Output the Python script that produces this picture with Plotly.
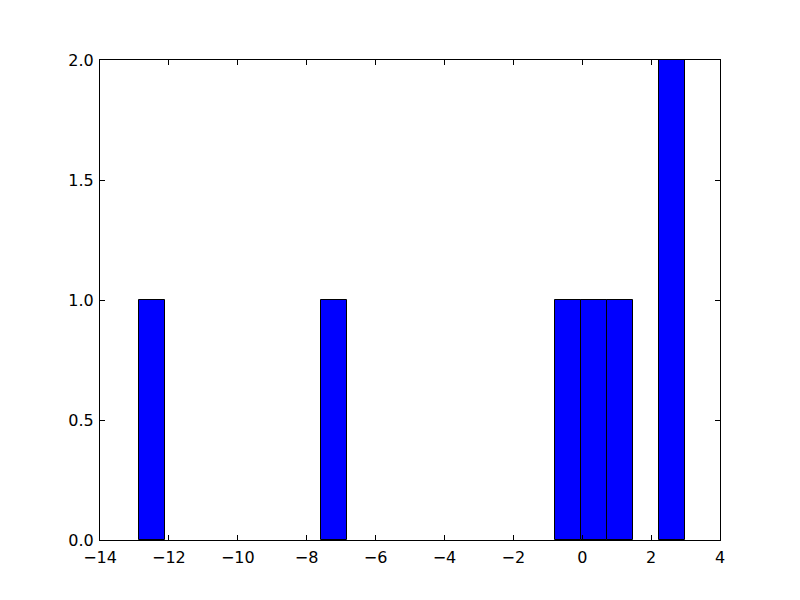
import plotly.graph_objects as go

bin_start = -12.87
bin_width = 0.7548
counts = [1, 0, 0, 0, 0, 0, 0, 1, 0, 0, 0, 0, 0, 0, 0, 0, 1, 1, 1, 0, 2]
x_ticks = [-14, -12, -10, -8, -6, -4, -2, 0, 2, 4]
y_ticks = [0.0, 0.5, 1.0, 1.5, 2.0]

centers = [bin_start + (i + 0.5) * bin_width for i in range(len(counts))]
xs = [c for c, n in zip(centers, counts) if n > 0]
ys = [n for n in counts if n > 0]

fig = go.Figure(go.Bar(
    x=xs, y=ys, width=bin_width,
    marker=dict(color="#0000ff", line=dict(color="black", width=1)),
))

axis_common = dict(
    showgrid=False, zeroline=False, showline=True, linecolor="black", linewidth=1,
    mirror="allticks", ticks="inside", ticklen=5, tickcolor="black",
    tickfont=dict(family="DejaVu Sans", size=16, color="black"),
)
fig.update_xaxes(range=[-14, 4], tickvals=x_ticks, ticklabelstandoff=3,
                 ticktext=[str(v).replace("-", "\u2212") for v in x_ticks], **axis_common)
fig.update_yaxes(range=[0, 2], tickvals=y_ticks, ticklabelstandoff=2,
                 ticktext=[f"{v:.1f}" for v in y_ticks], **axis_common)
fig.update_layout(
    width=800, height=600, margin=dict(l=92, r=88, t=52, b=68),
    plot_bgcolor="white", paper_bgcolor="white", showlegend=False, bargap=0,
)
fig.write_html("out.html")
